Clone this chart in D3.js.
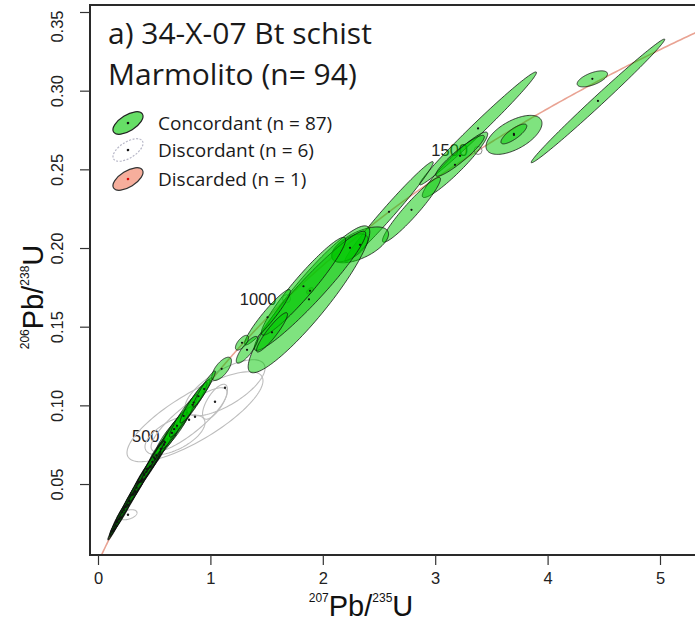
<!DOCTYPE html>
<html><head><meta charset="utf-8">
<script src="https://cdn.jsdelivr.net/npm/d3@7"></script>
<style>body{margin:0;background:#fff}svg{display:block}</style>
</head><body>
<svg id="c" width="695" height="626"></svg>
<script>
// ---- data (207Pb/235U, 206Pb/238U, half-widths, error correlation) ----
const concX   = [4.448,4.398,3.701,3.700,3.381,3.176,3.221,2.589,2.789,2.331,2.242,1.877,1.886,1.828,1.508,1.548,1.326,1.281,1.100,0.894,0.8407,0.703,0.658,0.587,0.507,0.4626,0.4315,0.3826,0.329,0.2758,0.2313,0.218,0.1735,0.1335,
                 0.1592,0.1881,0.2481,0.2792,0.3111,0.3437,0.3772,0.4116,0.4468,0.4828,0.5198,0.5577,0.5964,0.6771,0.7618,0.8507,0.9442,
                 0.1707,0.2058,0.2358,0.2666,0.2982,0.3306,0.3637,0.3977,0.4326,0.4683,0.4974];
const concY   = [0.2935,0.3075,0.2719,0.2725,0.2760,0.2529,0.2586,0.2230,0.2243,0.2020,0.2001,0.1674,0.1728,0.1757,0.1560,0.1464,0.1353,0.1398,0.1232,0.1058,0.1004,0.0870,0.0825,0.0750,0.0660,0.0610,0.0578,0.0520,0.0455,0.0390,0.0335,0.0321,0.0257,0.0203,
                 0.02354,0.02752,0.03552,0.03954,0.04358,0.04764,0.05171,0.05580,0.05990,0.06402,0.06815,0.07230,0.07647,0.08485,0.0933,0.1018,0.1104,
                 0.0263,0.0287,0.0351,0.0367,0.0432,0.0448,0.0513,0.0529,0.0595,0.0611,0.0669];
const concSX  = [0.594,0.135,0.249,0.115,0.520,0.291,0.216,0.3935,0.258,0.254,0.160,0.541,0.496,0.375,0.204,0.138,0.0957,0.0583,0.0875,0.1205,0.1566,0.1343,0.144,0.1255,0.090,0.0895,0.1035,0.0985,0.090,0.0988,0.036,0.0854,0.0676,0.0446,
                 0.055,0.070,0.080,0.070,0.085,0.075,0.082,0.090,0.080,0.095,0.100,0.110,0.105,0.115,0.125,0.120,0.100,
                 0.060,0.070,0.075,0.080,0.075,0.085,0.080,0.090,0.085,0.090,0.095];
const concSY  = [0.0393,0.0051,0.0124,0.0063,0.0359,0.0208,0.0130,0.0319,0.0206,0.0114,0.0089,0.0467,0.0379,0.0311,0.0176,0.0125,0.0085,0.0047,0.0074,0.0118,0.0159,0.0121,0.0131,0.0109,0.0090,0.0086,0.0105,0.0108,0.0099,0.0112,0.0042,0.0099,0.0080,0.0057,
                 0.0068,0.0080,0.0092,0.0078,0.0095,0.0083,0.0090,0.0098,0.0088,0.0102,0.0108,0.0118,0.0115,0.0125,0.0135,0.0130,0.0115,
                 0.0072,0.0080,0.0086,0.0090,0.0086,0.0095,0.0090,0.0100,0.0095,0.0100,0.0105];
const concRho = [0.994,0.61,0.59,0.80,0.989,0.94,0.928,0.984,0.948,0.60,0.60,0.918,0.956,0.951,0.943,0.916,0.821,0.665,0.68,0.961,0.96,0.924,0.918,0.929,0.929,0.95,0.948,0.963,0.955,0.977,0.898,0.969,0.972,0.962,
                 0.975,0.975,0.978,0.972,0.975,0.968,0.970,0.965,0.962,0.958,0.955,0.945,0.94,0.935,0.94,0.945,0.955,
                 0.98,0.98,0.98,0.98,0.98,0.98,0.978,0.978,0.975,0.975,0.972];

const discX   = [0.863,0.810,1.130,0.685,1.041,0.267];
const discY   = [0.0928,0.0909,0.1112,0.0813,0.1023,0.0305];
const discSX  = [0.605,0.338,0.356,0.267,0.111,0.080];
const discSY  = [0.0286,0.0203,0.0178,0.0127,0.0111,0.0032];
const discRho = [0.80,0.85,0.70,0.60,0.70,0.40];

const rejX=[1.886], rejY=[0.1728], rejSX=[0.03], rejSY=[0.002], rejRho=[0.5];

const xTicks=[0,1,2,3,4,5];
const yTicks=[0.05,0.10,0.15,0.20,0.25,0.30,0.35];
const ageTicks=[500,1000,1500];
const legendLabels=["Concordant (n = 87)","Discordant (n = 6)","Discarded (n = 1)"];
const titleLines=["a) 34-X-07 Bt schist","Marmolito (n= 94)"];
const L235=9.8485e-4, L238=1.55125e-4; // per Ma

// ---- drawing ----
const svg=d3.select('#c');
const x=d3.scaleLinear().domain([0,5]).range([98,660]);
const y=d3.scaleLinear().domain([0,0.35]).range([562.7,12]);
const P={left:90,top:5,bottom:555,right:800};

svg.append('clipPath').attr('id','clip').append('rect')
  .attr('x',P.left).attr('y',P.top).attr('width',P.right-P.left).attr('height',P.bottom-P.top);
const g=svg.append('g').attr('clip-path','url(#clip)');

// concordia
const ages=d3.range(0,2401,5);
const conc=ages.map(t=>[Math.exp(L235*t)-1,Math.exp(L238*t)-1]);
g.append('path').attr('d',d3.line().x(d=>x(d[0])).y(d=>y(d[1]))(conc))
  .attr('fill','none').attr('stroke','#e9a393').attr('stroke-width',1.6);

// age labels
ageTicks.forEach(t=>{
  const cx=x(Math.exp(L235*t)-1), cy=y(Math.exp(L238*t)-1);
  g.append('circle').attr('cx',cx).attr('cy',cy).attr('r',4)
    .attr('fill','none').attr('stroke','#8a8a8a').attr('stroke-width',1);
  g.append('text').attr('x',cx-10).attr('y',cy+6).attr('text-anchor','end')
    .attr('font-family','Liberation Sans, Arial, sans-serif').attr('font-size',16.5)
    .attr('fill','#222').text(t);
});

function ell(cx,cy,sx,sy,r){
  const k=Math.sqrt(1-r*r), pts=[];
  for(let i=0;i<120;i++){const a=i/120*2*Math.PI;
    pts.push([x(cx+sx*Math.cos(a)), y(cy+sy*(r*Math.cos(a)+k*Math.sin(a)))]);}
  return d3.line().curve(d3.curveLinearClosed)(pts);
}

// discordant
discX.forEach((d,i)=>{
  g.append('path').attr('d',ell(discX[i],discY[i],discSX[i],discSY[i],discRho[i]))
    .attr('fill','none').attr('stroke','#bdbdbd').attr('stroke-width',1.1);
});
discX.forEach((d,i)=>{
  g.append('circle').attr('cx',x(discX[i])).attr('cy',y(discY[i])).attr('r',1.2).attr('fill','#222');
});
// discarded
rejX.forEach((d,i)=>{
  g.append('path').attr('d',ell(rejX[i],rejY[i],rejSX[i],rejSY[i],rejRho[i]))
    .attr('fill','rgba(240,120,90,0.5)').attr('stroke','#333').attr('stroke-width',0.8);
});
// concordant
concX.forEach((d,i)=>{
  g.append('path').attr('d',ell(concX[i],concY[i],concSX[i],concSY[i],concRho[i]))
    .attr('fill','rgba(0,200,0,0.5)').attr('stroke','rgba(15,15,15,0.85)')
    .attr('stroke-width',concX[i]<0.52?1.3:0.9);
});
concX.forEach((d,i)=>{
  g.append('circle').attr('cx',x(concX[i])).attr('cy',y(concY[i])).attr('r',1.1).attr('fill','#111');
});

// box
svg.append('path').attr('d',`M${P.right},${P.top}H${P.left}V${P.bottom}H${P.right}`)
  .attr('fill','none').attr('stroke','#2a2a2a').attr('stroke-width',2);

// axes
const tickFont='Liberation Sans, Arial, sans-serif';
const xa=svg.append('g').attr('transform',`translate(0,${P.bottom})`)
  .call(d3.axisBottom(x).tickValues(xTicks).tickSize(10).tickFormat(d3.format('d')));
xa.select('.domain').remove();
xa.selectAll('line').attr('stroke','#333').attr('stroke-width',1.2);
xa.selectAll('text').attr('y',29).attr('dy',0).attr('font-family',tickFont).attr('font-size',16.5).attr('fill','#222');

const ya=svg.append('g').attr('transform',`translate(${P.left},0)`)
  .call(d3.axisLeft(y).tickValues(yTicks).tickSize(10).tickFormat(d3.format('.2f')));
ya.select('.domain').remove();
ya.selectAll('line').attr('stroke','#333').attr('stroke-width',1.2);
ya.selectAll('text').attr('transform','rotate(-90)').attr('text-anchor','middle')
  .attr('x',d=>d===0.35?-14:0).attr('y',-27).attr('dy',0)
  .attr('font-family',tickFont).attr('font-size',16.5).attr('fill','#222');

// axis titles
function isoLabel(sel,a,b,c,d){
  sel.attr('font-family',tickFont).attr('font-size',29).attr('fill','#111').attr('text-anchor','middle');
  sel.append('tspan').attr('font-size',12).attr('dy',-14).text(a);
  sel.append('tspan').attr('dy',14).text(b);
  sel.append('tspan').attr('font-size',12).attr('dy',-14).text(c);
  sel.append('tspan').attr('dy',14).text(d);
}
isoLabel(svg.append('text').attr('x',361).attr('y',616),'207','Pb/','235','U');
isoLabel(svg.append('text').attr('transform','translate(43,297) rotate(-90)'),'206','Pb/','238','U');

// title
titleLines.forEach((t,i)=>{
  svg.append('text').attr('x',108).attr('y',43.5+i*41).attr('font-family','Open Sans, sans-serif')
    .attr('font-size',30).attr('fill','#1a1a1a').text(t);
});

// legend
const lg=[
  {fill:'rgba(0,200,0,0.6)',stroke:'#222',dot:'#111',dash:null},
  {fill:'#fff',stroke:'#b8b8c8',dot:'#111',dash:'2,1.5'},
  {fill:'rgba(240,120,90,0.6)',stroke:'#333',dot:'#d00',dash:null}
];
const ly=[123,150,179];
lg.forEach((s,i)=>{
  const gg=svg.append('g').attr('transform',`translate(128,${ly[i]}) rotate(-32)`);
  gg.append('ellipse').attr('rx',17).attr('ry',8).attr('fill',s.fill).attr('stroke',s.stroke)
    .attr('stroke-width',1.2).attr('stroke-dasharray',s.dash);
  gg.append('circle').attr('r',1.3).attr('fill',s.dot);
  svg.append('text').attr('x',158).attr('y',ly[i]+6.5).attr('font-family','Open Sans, sans-serif')
    .attr('font-size',19).attr('fill','#1a1a1a').text(legendLabels[i]);
});
</script>
</body></html>
